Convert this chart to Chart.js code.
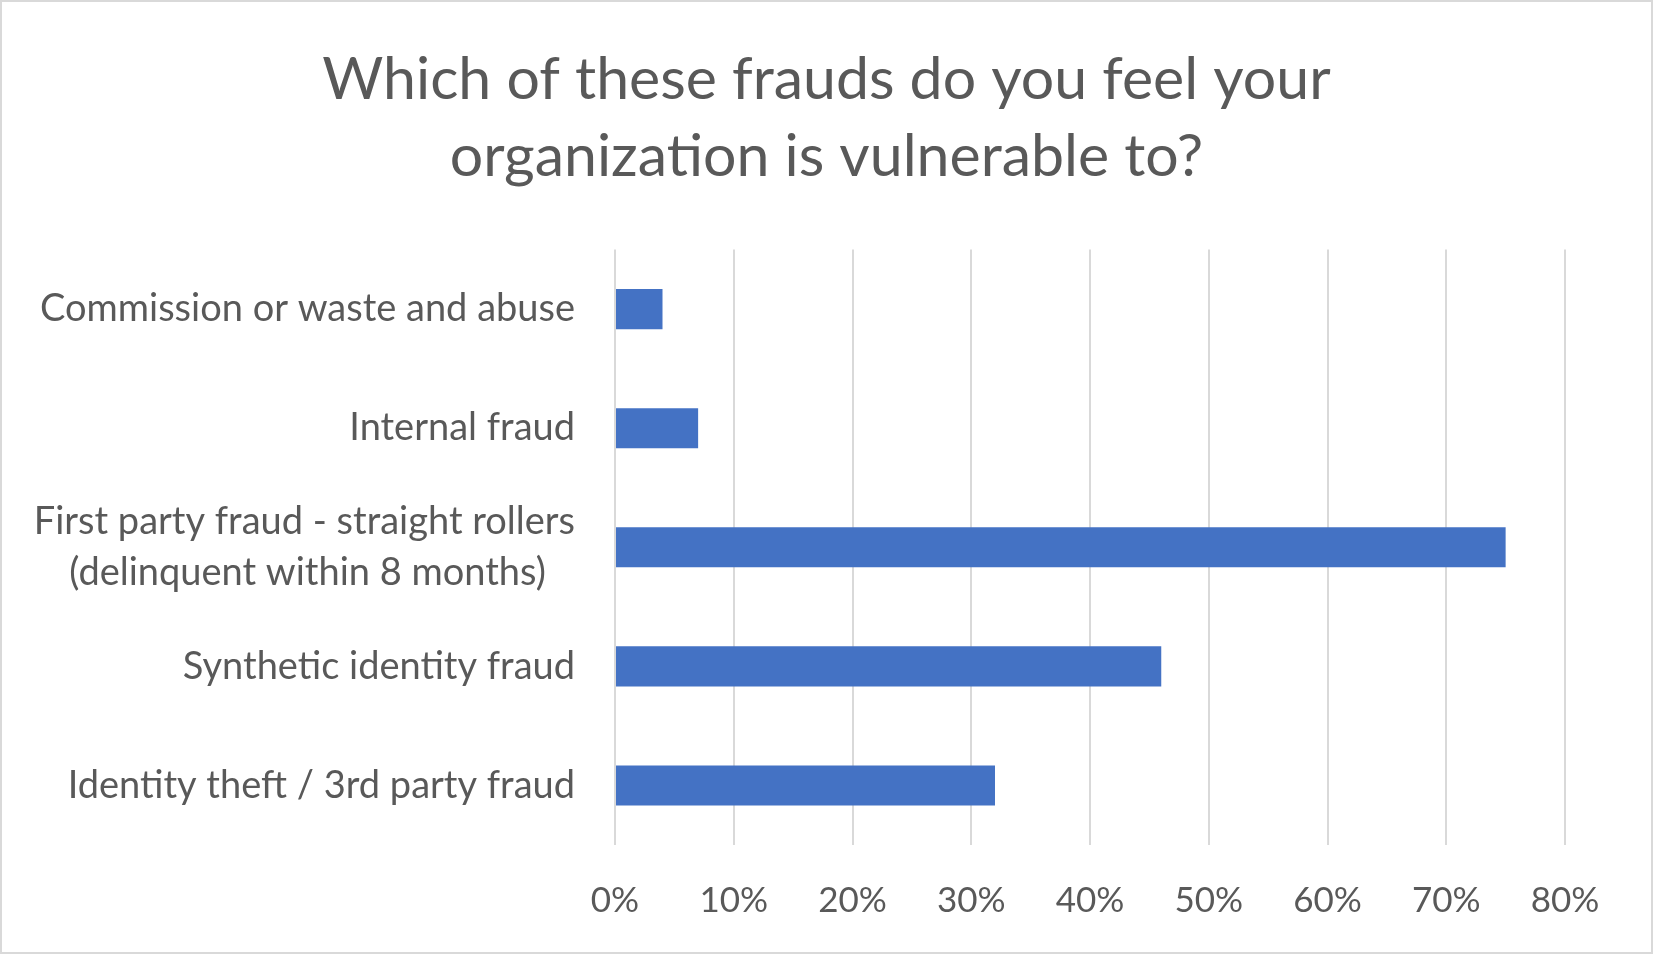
<!DOCTYPE html>
<html lang="en">
<head>
    <meta charset="UTF-8">
    <title>Fraud vulnerability</title>
    <script src="https://cdn.jsdelivr.net/npm/chart.js"></script>
    <style>
        html, body {
            margin: 0;
            padding: 0;
            background: #ffffff;
            overflow: hidden;
        }

        #wrap {
            width: 1653px;
            height: 954px;
            box-sizing: border-box;
            border: 2px solid #d9d9d9;
            position: relative;
        }
    </style>
</head>
<body>
    <div id="wrap">
        <canvas id="fraudChart"></canvas>
    </div>

    <script>
        // Data (top to bottom).
        const categories = [
            'Commission or waste and abuse',
            'Internal fraud',
            ['First party fraud - straight rollers', '(delinquent within 8 months)\u00a0\u00a0\u00a0'],
            'Synthetic identity fraud',
            'Identity theft / 3rd party fraud'
        ];
        const shares = [4, 7, 75, 46, 32];
        const xTicks = [0, 10, 20, 30, 40, 50, 60, 70, 80];

        const textColor = '#595959';
        const fontFamily = 'Lato, "Open Sans", sans-serif';

        const ctx = document.getElementById('fraudChart').getContext('2d');
        const fraudChart = new Chart(ctx, {
            type: 'bar',
            data: {
                labels: categories,
                datasets: [{
                    label: 'Share',
                    data: shares,
                    backgroundColor: '#4472c4',
                    borderWidth: 0,
                    categoryPercentage: 1,
                    barPercentage: 0.336
                }]
            },
            options: {
                indexAxis: 'y',
                responsive: true,
                maintainAspectRatio: false,
                animation: false,
                layout: {
                    padding: 0
                },
                plugins: {
                    legend: { display: false },
                    tooltip: { enabled: false },
                    title: {
                        display: true,
                        text: ['Which of these frauds do you feel your', 'organization is vulnerable to?'],
                        color: textColor,
                        font: { family: fontFamily, size: 59, weight: 'normal', lineHeight: 1.31 },
                        padding: { top: 39, bottom: 54 }
                    }
                },
                scales: {
                    x: {
                        min: 0,
                        max: 80,
                        afterBuildTicks: scale => {
                            scale.ticks = xTicks.map(v => ({ value: v }));
                        },
                        afterFit: scale => { scale.height = 107; },
                        grid: { color: '#d9d9d9', lineWidth: 2, drawTicks: false },
                        border: { display: false },
                        ticks: {
                            color: textColor,
                            font: { family: fontFamily, size: 35 },
                            padding: 35,
                            maxRotation: 0,
                            callback: v => v + '%'
                        }
                    },
                    y: {
                        afterFit: scale => { scale.width = 613; },
                        grid: { display: false, drawTicks: false },
                        border: { display: false },
                        ticks: {
                            color: textColor,
                            font: { family: fontFamily, size: 38, lineHeight: 1.36 },
                            padding: 40
                        }
                    },
                    // empty right-hand strip so the plot stops at 80% while the title stays centred
                    spacer: {
                        type: 'category',
                        axis: 'y',
                        position: 'right',
                        afterFit: scale => { scale.width = 86; },
                        grid: { display: false, drawTicks: false },
                        border: { display: false },
                        ticks: { display: false }
                    }
                }
            }
        });
    </script>
</body>
</html>
